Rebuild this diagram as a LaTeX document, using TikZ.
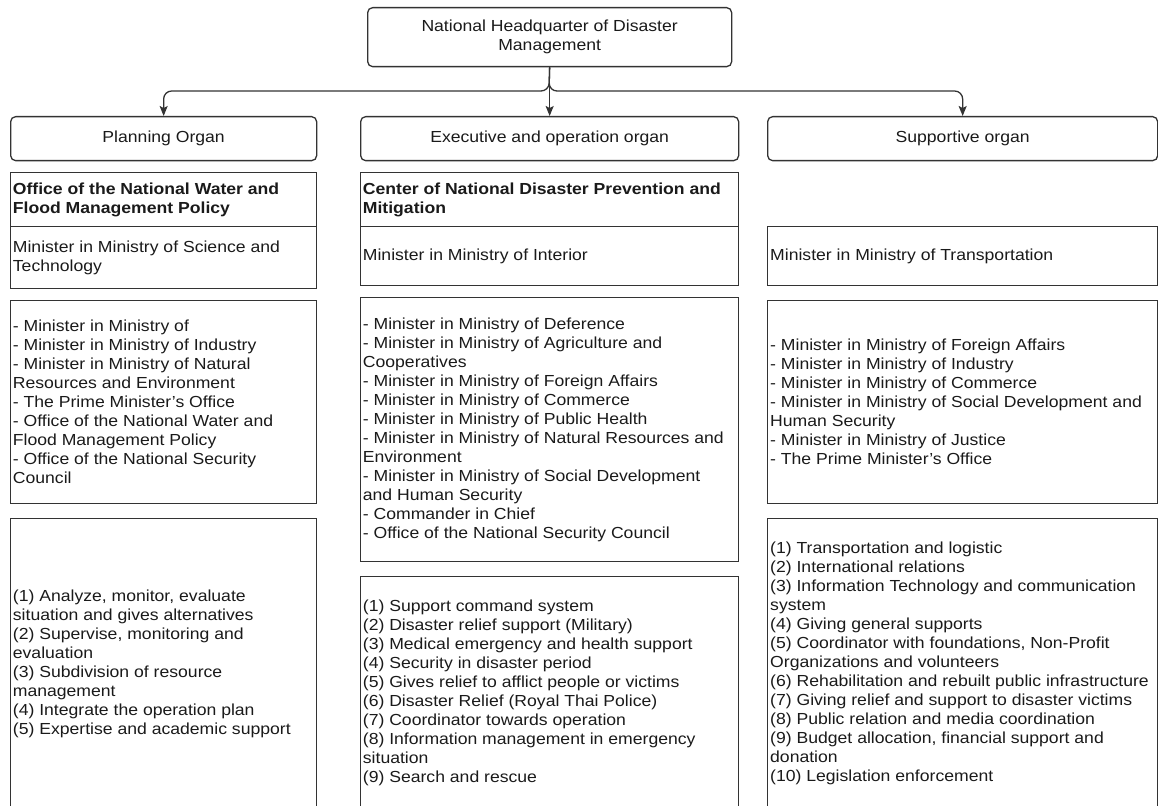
\documentclass[tikz,border=0pt]{standalone}
\usepackage{fontspec}
\setmainfont{Liberation Sans}[FakeStretch=1.1]
\usetikzlibrary{arrows.meta}
\definecolor{ln}{HTML}{333333}
\definecolor{tx}{HTML}{1A1A1A}
\begin{document}
\begin{tikzpicture}[x=1pt,y=-1pt,
 box/.style={draw=ln,line width=1.3pt,rectangle,inner sep=0pt,anchor=north west},
 rbox/.style={box,rounded corners=5pt},
 txt/.style={text=tx,font=\fontsize{16}{19}\selectfont,align=left,inner sep=0pt,anchor=west},
 btxt/.style={txt,font=\fontsize{16}{19}\selectfont\bfseries},
 ctxt/.style={text=tx,font=\fontsize{16}{19}\selectfont,align=center},
 edge/.style={draw=ln,line width=1.3pt,-{Stealth[length=10pt,width=8pt,inset=2pt]},rounded corners=8pt}]
\useasboundingbox (0,0) rectangle (1158,805);

% top
\node[rbox,ctxt,minimum width=364,minimum height=59] (hq) at (367,7) {National Headquarter of Disaster\\Management};
% organ labels
\node[rbox,ctxt,minimum width=306,minimum height=44] (plan) at (10,116) {Planning Organ};
\node[rbox,ctxt,minimum width=378,minimum height=44] (exec) at (360,116) {Executive and operation organ};
\node[rbox,ctxt,minimum width=390,minimum height=44] (sup) at (767,116) {Supportive organ};

\coordinate (bus) at (549,91);
\draw[edge] (hq.south) -- (bus) -| (plan.north);
\draw[edge] (hq.south) -- (bus) -| (sup.north);
\draw[edge] (hq.south) -- (exec.north);

% column 1
\node[box,minimum width=306,minimum height=54] (c1h) at (10,172) {};
\node[box,minimum width=306,minimum height=62] (c1m) at (10,226) {};
\node[box,minimum width=306,minimum height=203] (c1l) at (10,300) {};
\node[box,minimum width=306,minimum height=290] (c1f) at (10,518) {};
\node[btxt] (c1ht) at ([xshift=2.7pt]c1h.west) {Office of the National Water and\\Flood Management Policy};
\node[txt] (c1mt) at ([xshift=2.7pt]c1m.west) {Minister in Ministry of Science and\\Technology};
\node[txt] (c1lt) at ([xshift=2.7pt]c1l.west) {- Minister in Ministry of\\- Minister in Ministry of Industry\\- Minister in Ministry of Natural\\Resources and Environment\\- The Prime Minister's Office\\- Office of the National Water and\\Flood Management Policy\\- Office of the National Security\\Council};
\node[txt] (c1ft) at ([xshift=2.7pt]c1f.west) {(1) Analyze, monitor, evaluate\\situation and gives alternatives\\(2) Supervise, monitoring and\\evaluation\\(3) Subdivision of resource\\management\\(4) Integrate the operation plan\\(5) Expertise and academic support};

% column 2
\node[box,minimum width=378,minimum height=54] (c2h) at (360,172) {};
\node[box,minimum width=378,minimum height=59] (c2m) at (360,226) {};
\node[box,minimum width=378,minimum height=264] (c2l) at (360,297) {};
\node[box,minimum width=378,minimum height=232] (c2f) at (360,576) {};
\node[btxt] (c2ht) at ([xshift=2.7pt]c2h.west) {Center of National Disaster Prevention and\\Mitigation};
\node[txt] (c2mt) at ([xshift=2.7pt]c2m.west) {Minister in Ministry of Interior};
\node[txt] (c2lt) at ([xshift=2.7pt]c2l.west) {- Minister in Ministry of Deference\\- Minister in Ministry of Agriculture and\\Cooperatives\\- Minister in Ministry of Foreign Affairs\\- Minister in Ministry of Commerce\\- Minister in Ministry of Public Health\\- Minister in Ministry of Natural Resources and\\Environment\\- Minister in Ministry of Social Development\\and Human Security\\- Commander in Chief\\- Office of the National Security Council};
\node[txt] (c2ft) at ([xshift=2.7pt]c2f.west) {(1) Support command system\\(2) Disaster relief support (Military)\\(3) Medical emergency and health support\\(4) Security in disaster period\\(5) Gives relief to afflict people or victims\\(6) Disaster Relief (Royal Thai Police)\\(7) Coordinator towards operation\\(8) Information management in emergency\\situation\\(9) Search and rescue};

% column 3
\node[box,minimum width=390,minimum height=59] (c3m) at (767,226) {};
\node[box,minimum width=390,minimum height=203] (c3l) at (767,300) {};
\node[box,minimum width=390,minimum height=290] (c3f) at (767,518) {};
\node[txt] (c3mt) at ([xshift=3pt]c3m.west) {Minister in Ministry of Transportation};
\node[txt] (c3lt) at ([xshift=3pt]c3l.west) {- Minister in Ministry of Foreign Affairs\\- Minister in Ministry of Industry\\- Minister in Ministry of Commerce\\- Minister in Ministry of Social Development and\\Human Security\\- Minister in Ministry of Justice\\- The Prime Minister's Office};
\node[txt] (c3ft) at ([xshift=3pt]c3f.west) {(1) Transportation and logistic\\(2) International relations\\(3) Information Technology and communication\\system\\(4) Giving general supports\\(5) Coordinator with foundations, Non-Profit\\Organizations and volunteers\\(6) Rehabilitation and rebuilt public infrastructure\\(7) Giving relief and support to disaster victims\\(8) Public relation and media coordination\\(9) Budget allocation, financial support and\\donation\\(10) Legislation enforcement};
\end{tikzpicture}
\end{document}
